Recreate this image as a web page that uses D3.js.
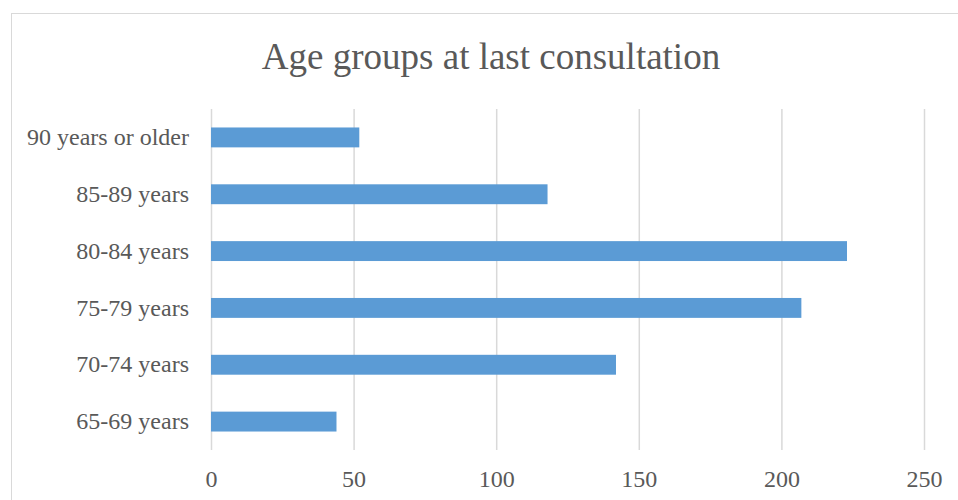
<!DOCTYPE html>
<html><head><meta charset="utf-8">
<script src="https://cdn.jsdelivr.net/npm/d3@7"></script>
<style>html,body{margin:0;padding:0;background:#fff;}svg{display:block;}</style>
</head><body>
<svg id="chart" width="958" height="500"></svg>
<script>
const title = "Age groups at last consultation";
const categories = ["90 years or older","85-89 years","80-84 years","75-79 years","70-74 years","65-69 years"];
const values = [52,118,223,207,142,44];
const tickValues = [0,50,100,150,200,250];

(function(){
const svg = d3.select("#chart");
const font = "'Liberation Serif','Times New Roman',serif";
const textColor = "#595959";

svg.append("rect").attr("x",11.5).attr("y",13.5).attr("width",960).attr("height",500)
  .attr("fill","#fff").attr("stroke","#D9D9D9").attr("stroke-width",1);

const pLeft = 211, pRight = 924, pTop = 109, pBottom = 450;
const x = d3.scaleLinear().domain([0,250]).range([pLeft,pRight]);
const y = d3.scaleBand().domain(categories).range([pTop,pBottom]).paddingInner(0.65).paddingOuter(0.325);

svg.append("text").attr("x",491).attr("y",69).attr("text-anchor","middle")
  .attr("font-family",font).attr("font-size",37).attr("fill",textColor).text(title);

const xAxis = svg.append("g").attr("transform",`translate(0,${pBottom})`)
  .call(d3.axisBottom(x).tickValues(tickValues).tickSize(-(pBottom-pTop)).tickPadding(20).tickFormat(d3.format("d")));
xAxis.select(".domain").remove();
xAxis.selectAll(".tick line").attr("stroke","#D9D9D9").attr("stroke-width",1.5);
xAxis.selectAll(".tick text").attr("font-family",font).attr("font-size",24).attr("fill",textColor);

const yAxis = svg.append("g").attr("transform",`translate(${pLeft},0)`)
  .call(d3.axisLeft(y).tickSize(0).tickPadding(22));
yAxis.select(".domain").remove();
yAxis.selectAll(".tick text").attr("font-family",font).attr("font-size",24).attr("fill",textColor);

svg.append("g").selectAll("rect").data(categories).join("rect")
  .attr("x",x(0)).attr("y",d=>y(d)).attr("height",y.bandwidth())
  .attr("width",(d,i)=>x(values[i])-x(0)).attr("fill","#5B9BD5");
})();
</script>
</body></html>
